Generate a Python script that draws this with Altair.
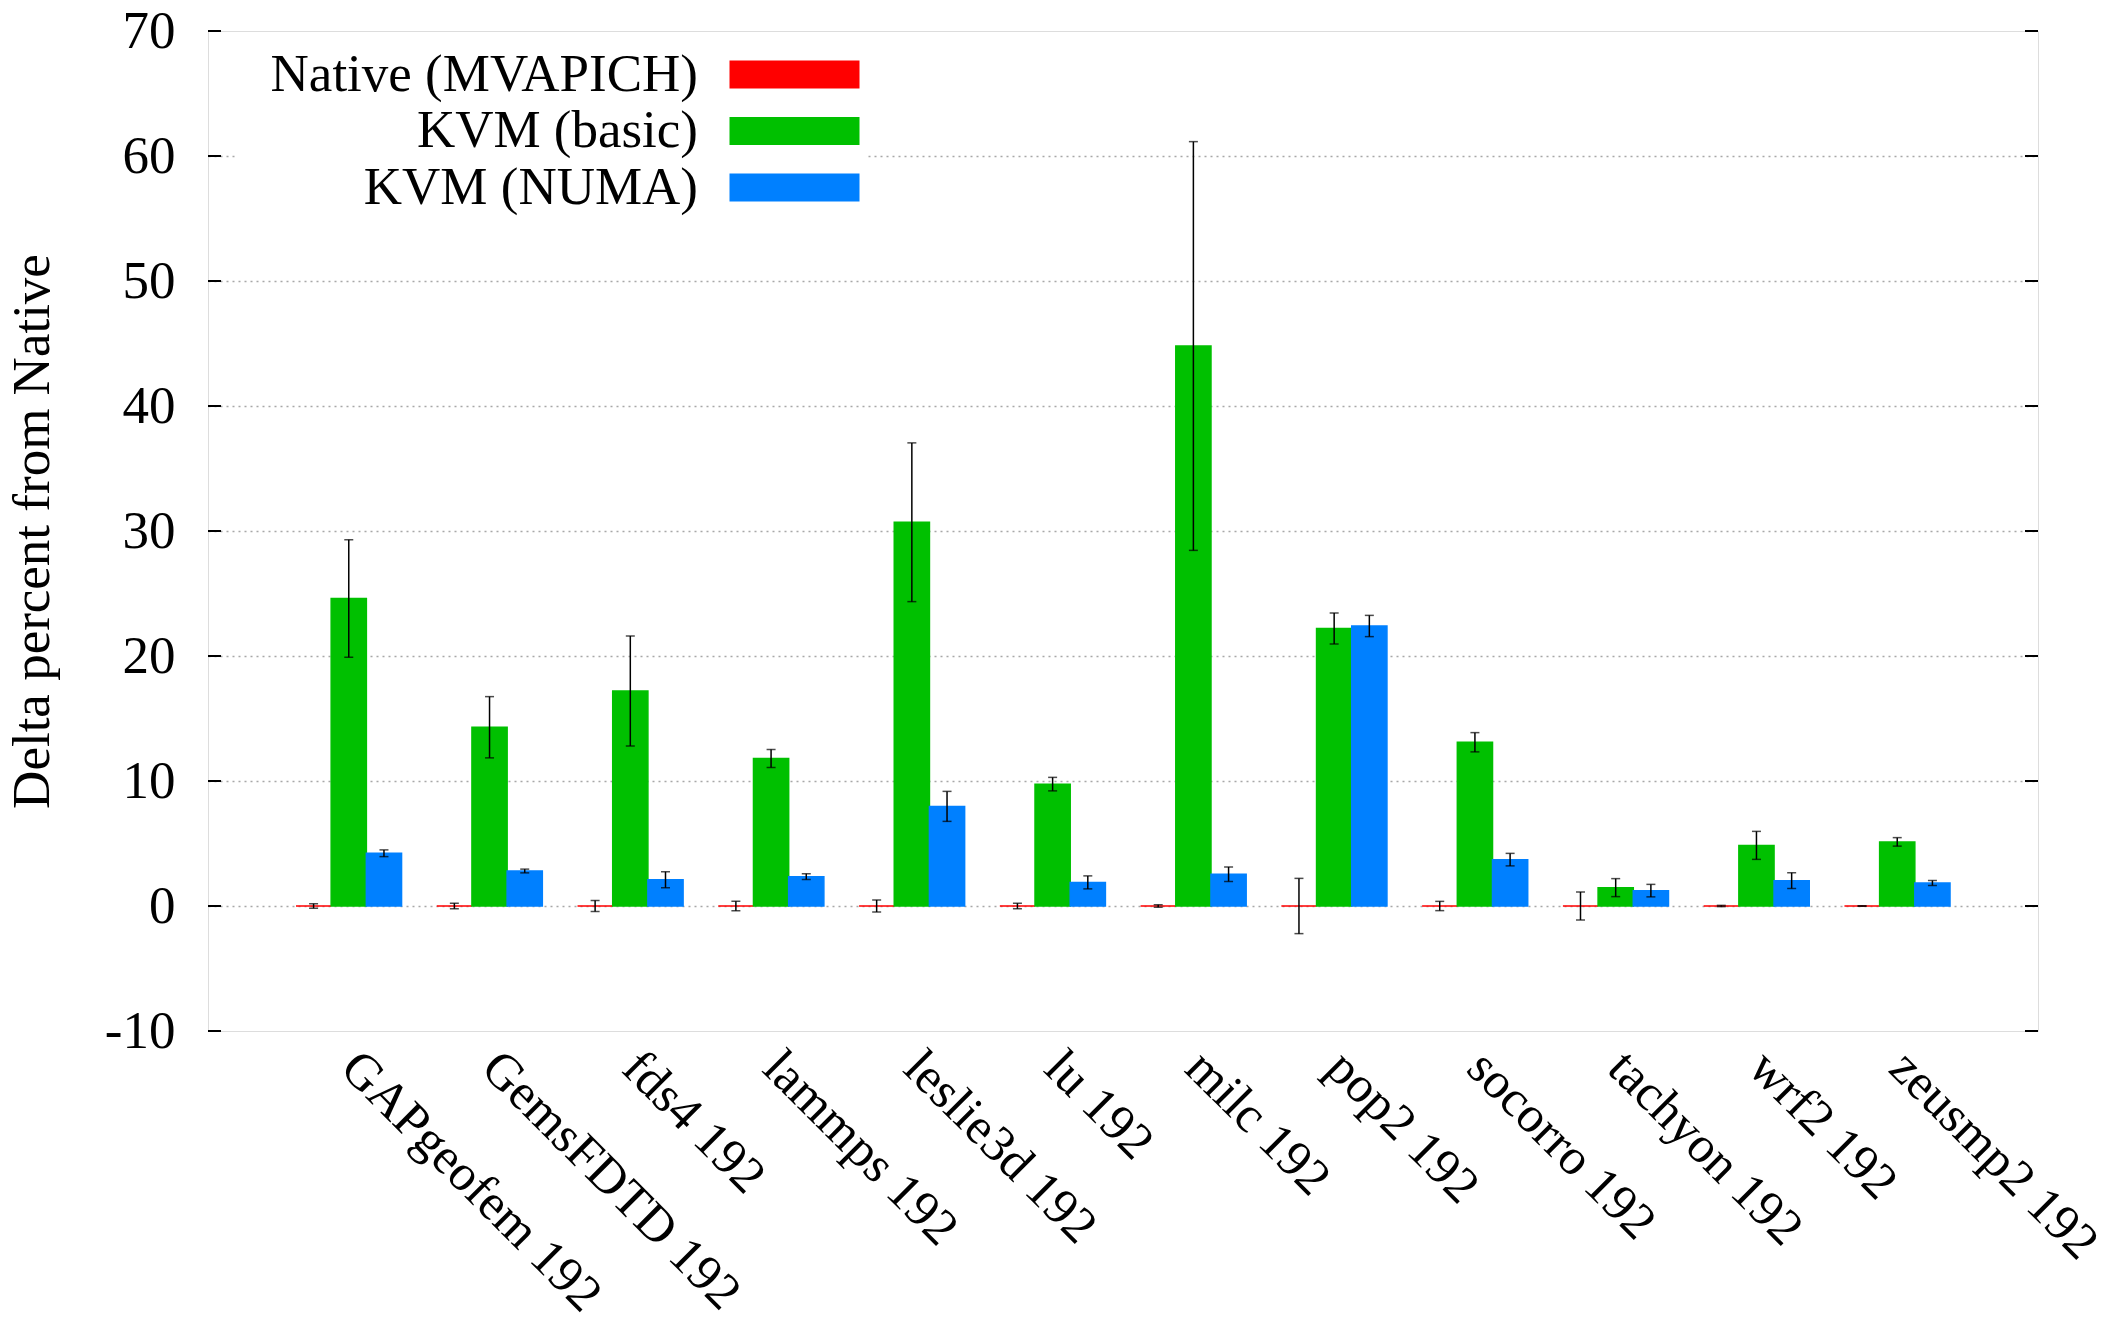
import altair as alt
import pandas as pd

benchmarks = ["GAPgeofem 192", "GemsFDTD 192", "fds4 192", "lammps 192", "leslie3d 192", "lu 192",
              "milc 192", "pop2 192", "socorro 192", "tachyon 192", "wrf2 192", "zeusmp2 192"]
series = ["Native (MVAPICH)", "KVM (basic)", "KVM (NUMA)"]
colors = ["#ff0000", "#00c000", "#0080ff"]

native_val = [0, 0, 0, 0, 0, 0, 0, 0, 0, 0, 0, 0]
native_err = [0.18, 0.22, 0.44, 0.38, 0.48, 0.22, 0.1, 2.21, 0.37, 1.12, 0.05, 0.02]
basic_val = [24.6, 14.3, 17.2, 11.8, 30.7, 9.75, 44.8, 22.2, 13.1, 1.47, 4.85, 5.13]
basic_err = [4.7, 2.45, 4.4, 0.72, 6.35, 0.54, 16.35, 1.24, 0.77, 0.72, 1.12, 0.34]
numa_val = [4.22, 2.8, 2.1, 2.35, 7.97, 1.89, 2.54, 22.4, 3.71, 1.23, 2.03, 1.84]
numa_err = [0.27, 0.15, 0.64, 0.23, 1.2, 0.52, 0.58, 0.85, 0.5, 0.5, 0.63, 0.2]

y_ticks = [-10, 0, 10, 20, 30, 40, 50, 60, 70]

rows = []
for s, vals, errs in zip(series, [native_val, basic_val, numa_val], [native_err, basic_err, numa_err]):
    for b, v, e in zip(benchmarks, vals, errs):
        rows.append({"bench": b, "series": s, "value": v, "lo": v - e, "hi": v + e})
df = pd.DataFrame(rows)
tick_df = pd.DataFrame({"t": y_ticks})

FONT = "Liberation Serif"
W, H = 1830, 1000

x_enc = alt.X("bench:N", sort=benchmarks,
              scale=alt.Scale(paddingInner=0.25, paddingOuter=0.625),
              axis=alt.Axis(title=None, labelAngle=45, labelAlign="left", labelBaseline="top",
                            labelFontSize=51, labelFont=FONT, labelColor="black",
                            ticks=False, domain=False, grid=False, labelPadding=11,
                            labelOffset=18, labelLimit=1000))
xoff = alt.XOffset("series:N", sort=series, scale=alt.Scale(paddingInner=0, paddingOuter=0))
y_scale = alt.Scale(domain=[-10, 70], nice=False, zero=False)

color_scale = alt.Scale(domain=series, range=colors)

bars = alt.Chart(df).mark_bar(strokeWidth=1.5).encode(
    x=x_enc,
    xOffset=xoff,
    y=alt.Y("value:Q", scale=y_scale,
            axis=alt.Axis(values=y_ticks, title="Delta percent from Native",
                          labelExpr="datum.value + ''",
                          titleFont=FONT, titleFontSize=53, titleFontWeight="normal",
                          titleColor="black", titlePadding=45,
                          labelFont=FONT, labelFontSize=53, labelColor="black",
                          labelPadding=33, tickSize=0, domain=False,
                          grid=True, gridDash=[2, 4],
                          gridColor={"condition": {"test": "datum.value == 70 || datum.value == -10",
                                                   "value": "transparent"},
                                     "value": "#a8a8a8"},
                          gridWidth=1.5)),
    color=alt.Color("series:N", scale=color_scale, sort=series,
                    legend=alt.Legend(title=None, orient="none", legendX=28, legendY=9,
                                      symbolType="M-2.6,-0.56H2.6V0.56H-2.6Z", symbolSize=2500,
                                      symbolStrokeWidth=0, symbolOpacity=1,
                                      symbolOffset=524,
                                      labelAlign="right", labelOffset={"expr": "-123"},
                                      labelFont=FONT, labelFontSize=53, labelColor="black",
                                      rowPadding=2.5, padding=8, fillColor="white",
                                      labelLimit=1000)),
    stroke=alt.Stroke("series:N", scale=color_scale, sort=series, legend=None),
)

err_rule = alt.Chart(df).mark_rule(color="black", strokeWidth=1.5).encode(
    x=x_enc, xOffset=xoff, y=alt.Y("lo:Q", scale=y_scale), y2="hi:Q")
cap_lo = alt.Chart(df).mark_tick(color="black", thickness=1.5, size=9).encode(
    x=x_enc, xOffset=xoff, y=alt.Y("lo:Q", scale=y_scale))
cap_hi = alt.Chart(df).mark_tick(color="black", thickness=1.5, size=9).encode(
    x=x_enc, xOffset=xoff, y=alt.Y("hi:Q", scale=y_scale))

ticks_left = alt.Chart(tick_df).mark_rule(color="black", strokeWidth=2).encode(
    y=alt.Y("t:Q", scale=y_scale), x=alt.value(0), x2=alt.value(13))
ticks_right = alt.Chart(tick_df).mark_rule(color="black", strokeWidth=2).encode(
    y=alt.Y("t:Q", scale=y_scale), x=alt.value(W - 13), x2=alt.value(W))

chart = alt.layer(bars, err_rule, cap_lo, cap_hi, ticks_left, ticks_right).properties(
    width=W, height=H,
    autosize=alt.AutoSizeParams(type="none"),
    padding={"left": 200, "top": 23, "right": 67, "bottom": 283},
).configure_view(stroke="black", strokeWidth=2).configure(background="white")

chart.save("out.html", embed_options={"renderer": "svg", "actions": False})
